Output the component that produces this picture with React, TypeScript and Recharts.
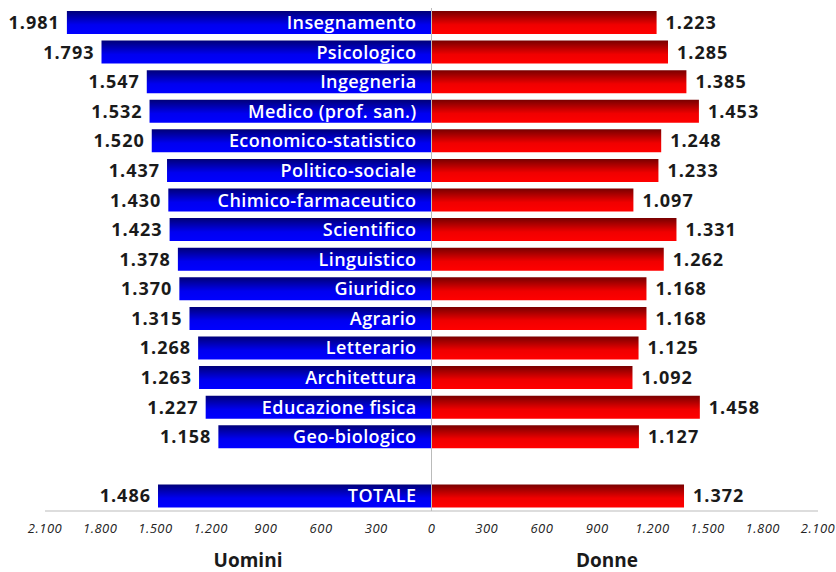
import { BarChart, Bar, XAxis, YAxis, ReferenceLine, LabelList } from "recharts"

// laureati: valori per settore (Uomini a sinistra, Donne a destra)
const categories = [
  "Insegnamento",
  "Psicologico",
  "Ingegneria",
  "Medico (prof. san.)",
  "Economico-statistico",
  "Politico-sociale",
  "Chimico-farmaceutico",
  "Scientifico",
  "Linguistico",
  "Giuridico",
  "Agrario",
  "Letterario",
  "Architettura",
  "Educazione fisica",
  "Geo-biologico",
  "",
  "TOTALE",
]
const uomini = [1981, 1793, 1547, 1532, 1520, 1437, 1430, 1423, 1378, 1370, 1315, 1268, 1263, 1227, 1158, null, 1486]
const donne = [1223, 1285, 1385, 1453, 1248, 1233, 1097, 1331, 1262, 1168, 1168, 1125, 1092, 1458, 1127, null, 1372]
const xTicks = [-2100, -1800, -1500, -1200, -900, -600, -300, 0, 300, 600, 900, 1200, 1500, 1800, 2100]

const data = categories.map((name, i) => ({
  name,
  uomini: uomini[i] == null ? null : -(uomini[i] as number),
  donne: donne[i],
}))

const fmt = (v: number) => {
  const s = String(Math.abs(Math.round(v)))
  return s.length > 3 ? s.slice(0, -3) + "." + s.slice(-3) : s
}

const box = (p: any) => {
  const b = p.viewBox && p.viewBox.width != null ? p.viewBox : p
  const x = Number(b.x), w = Number(b.width)
  return { left: Math.min(x, x + w), right: Math.max(x, x + w), cy: Number(b.y) + Number(b.height) / 2 }
}

const MenValue = (p: any) => {
  if (p.value == null) return null
  const { left, cy } = box(p)
  return (
    <text x={left - 7} y={cy} dy="0.36em" textAnchor="end" fontSize={18} fontWeight={700} letterSpacing={1} fill="#1a1a1a">
      {fmt(p.value)}
    </text>
  )
}

const WomenValue = (p: any) => {
  if (p.value == null) return null
  const { right, cy } = box(p)
  return (
    <text x={right + 9} y={cy} dy="0.36em" textAnchor="start" fontSize={18} fontWeight={700} letterSpacing={1} fill="#1a1a1a">
      {fmt(p.value)}
    </text>
  )
}

const CatLabel = (p: any) => {
  if (p.value == null || p.value === "") return null
  const { right, cy } = box(p)
  return (
    <text x={right - 15} y={cy} dy="0.36em" textAnchor="end" fontSize={18} fontWeight={600} letterSpacing={0.4} fill="#ffffff">
      {p.value}
    </text>
  )
}

export default function App() {
  return (
    <div style={{ position: "absolute", left: 0, top: 0, width: 836, height: 572, background: "#fff", fontFamily: "'Open Sans', sans-serif" }}>
      <BarChart
        width={836}
        height={572}
        data={data}
        layout="vertical"
        stackOffset="sign"
        barSize={23}
        margin={{ top: 8, right: 18, bottom: 31, left: 45 }}
      >
        <defs>
          <linearGradient id="gradBlu" x1="0" y1="0" x2="0" y2="1">
            <stop offset="0%" stopColor="#000078" />
            <stop offset="60%" stopColor="#0000f0" />
            <stop offset="100%" stopColor="#0000ff" />
          </linearGradient>
          <linearGradient id="gradRosso" x1="0" y1="0" x2="0" y2="1">
            <stop offset="0%" stopColor="#780000" />
            <stop offset="60%" stopColor="#f00000" />
            <stop offset="100%" stopColor="#ff0000" />
          </linearGradient>
        </defs>
        <XAxis
          type="number"
          domain={[-2100, 2100]}
          ticks={xTicks}
          tickFormatter={fmt}
          height={30}
          tickLine={false}
          tickSize={0}
          tickMargin={13}
          axisLine={{ stroke: "#bbbbbb" }}
          tick={{ fontSize: 13, fontStyle: "italic", fill: "#222", letterSpacing: 0.5 }}
          interval={0}
        />
        <YAxis type="category" dataKey="name" hide />
        <ReferenceLine x={0} stroke="#bbbbbb" />
        <Bar dataKey="uomini" stackId="a" fill="url(#gradBlu)" isAnimationActive={false}>
          <LabelList dataKey="uomini" content={MenValue} />
          <LabelList dataKey="name" content={CatLabel} />
        </Bar>
        <Bar dataKey="donne" stackId="a" fill="url(#gradRosso)" isAnimationActive={false}>
          <LabelList dataKey="donne" content={WomenValue} />
        </Bar>
      </BarChart>
      <div style={{ position: "absolute", left: 198, width: 100, top: 547, textAlign: "center", fontSize: 19, fontWeight: 700, color: "#1a1a1a" }}>
        Uomini
      </div>
      <div style={{ position: "absolute", left: 557, width: 100, top: 547, textAlign: "center", fontSize: 19, fontWeight: 700, color: "#1a1a1a" }}>
        Donne
      </div>
    </div>
  )
}
